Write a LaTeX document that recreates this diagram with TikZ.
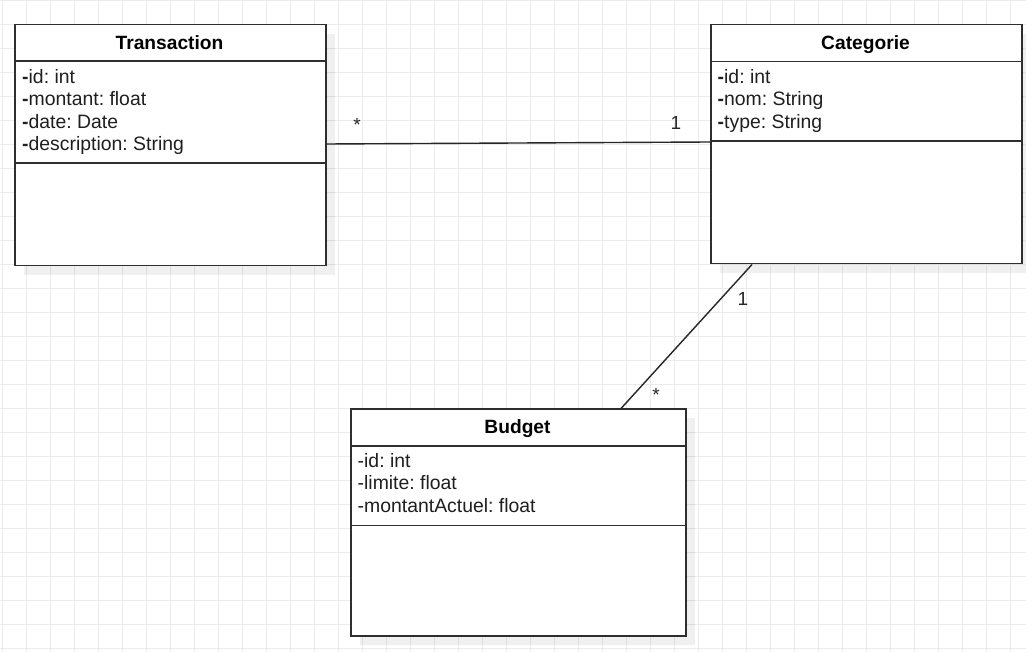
\documentclass[tikz,border=0pt]{standalone}
\usepackage{fontspec}
\setmainfont{Liberation Sans}
\usetikzlibrary{calc,shadows}
\frenchspacing
\begin{document}
\begin{tikzpicture}[x=1pt,y=-1pt,
  gridline/.style={draw=black!8,line width=1pt},
  classbox/.style={draw=black!82,line width=1.5pt,fill=white,rectangle,inner sep=0pt,anchor=north west,
    drop shadow={shadow xshift=9pt,shadow yshift=-9pt,fill=black,opacity=0.06}},
  sepline/.style={draw=black!82,line width=1.5pt},
  assoc/.style={draw=black!85,line width=1.4pt},
  title/.style={font=\fontsize{19.2}{22.5}\selectfont\bfseries,inner sep=0pt,anchor=base},
  attr/.style={font=\fontsize{19.4}{22.5}\selectfont,inner sep=0pt,anchor=base west,text=black!88},
  mult/.style={font=\fontsize{19}{22.5}\selectfont,inner sep=0pt,anchor=base,text=black!85}]
\useasboundingbox (0,0) rectangle (1026,652);
\fill[white] (0,0) rectangle (1026,652);
% grid
\foreach \k in {0,...,42} {\draw[gridline] (2.7+24*\k,0) -- (2.7+24*\k,652);}
\foreach \k in {0,...,27} {\draw[gridline] (0,0.5+24*\k) -- (1026,0.5+24*\k);}
% boxes
\node[classbox,minimum width=311pt,minimum height=241pt] (T) at (14,24) {};
\node[classbox,minimum width=311pt,minimum height=239pt] (C) at (710,24) {};
\node[classbox,minimum width=335pt,minimum height=226.5pt] (B) at (350,408.5) {};
% separators
\draw[sepline] ($(T.north west)+(0,37)$) -- ($(T.north east)+(0,37)$);
\draw[sepline] ($(T.north west)+(0,139)$) -- ($(T.north east)+(0,139)$);
\draw[sepline] ($(C.north west)+(0,37.5)$) -- ($(C.north east)+(0,37.5)$);
\draw[sepline] ($(C.north west)+(0,117)$) -- ($(C.north east)+(0,117)$);
\draw[sepline] ($(B.north west)+(0,37.5)$) -- ($(B.north east)+(0,37.5)$);
\draw[sepline] ($(B.north west)+(0,117)$) -- ($(B.north east)+(0,117)$);
% titles
\node[title] (Tt) at (169.5,49.3) {Transaction};
\node[title] (Ct) at (865.5,49.3) {Categorie};
\node[title] (Bt) at (517.5,433.3) {Budget};
% attributes
\node[attr] (Ta1) at (22,83.3) {\textbf{-}id: int};
\node[attr] (Ta2) at (22,105.8) {\textbf{-}montant: float};
\node[attr] (Ta3) at (22,128.3) {\textbf{-}date: Date};
\node[attr] (Ta4) at (22,150.8) {\textbf{-}description: String};
\node[attr] (Ca1) at (717.5,83.3) {\textbf{-}id: int};
\node[attr] (Ca2) at (717.5,105.8) {\textbf{-}nom: String};
\node[attr] (Ca3) at (717.5,128.3) {\textbf{-}type: String};
\node[attr] (Ba1) at (357.5,467.3) {-id: int};
\node[attr] (Ba2) at (357.5,489.8) {-limite: float};
\node[attr] (Ba3) at (357.5,512.3) {-montantActuel: float};
% connectors
\coordinate (T1) at ($(T.north east)+(0,120)$);
\coordinate (C1) at ($(C.north west)+(0,118)$);
\coordinate (C2) at ($(C.south west)+(42,0)$);
\coordinate (B1) at ($(B.north west)+(271,0)$);
\draw[assoc] (T1) -- (C1);
\draw[assoc] (C2) -- (B1);
% multiplicities
\node[mult] (m1) at (357,132) {*};
\node[mult] (m2) at (676,129.5) {1};
\node[mult] (m3) at (743,305.5) {1};
\node[mult] (m4) at (656,401.5) {*};
\end{tikzpicture}
\end{document}
